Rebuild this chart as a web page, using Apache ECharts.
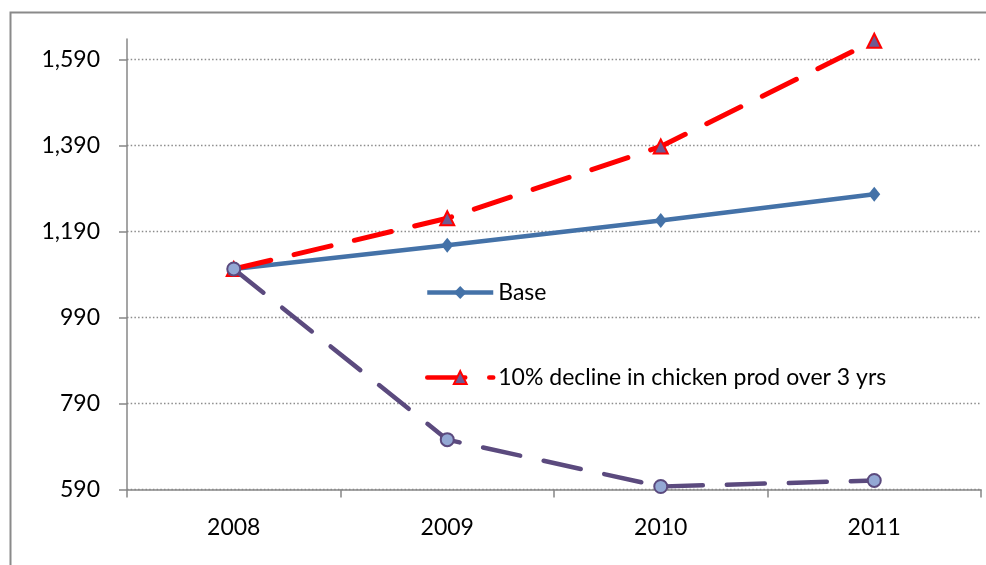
<!DOCTYPE html>
<html>
<head>
<meta charset="utf-8">
<script src="https://cdn.jsdelivr.net/npm/echarts@6/dist/echarts.min.js"></script>
<style>
  html, body { margin: 0; padding: 0; background: #fff; }
  #chart { width: 986px; height: 565px; }
</style>
</head>
<body>
<div id="chart"></div>
<script>
// Years on the category axis
const years = ['2008', '2009', '2010', '2011'];

// Series values
const baseValues = [1103, 1158, 1216, 1277];
const declineValues = [1103, 1221, 1388, 1634];
const thirdValues = [1103, 706, 597, 611];

// Value axis ticks
const yTicks = [590, 790, 990, 1190, 1390, 1590];
const yMin = 590;
const yMax = 1638;

const FONT = 'Lato';
const AXIS_GREY = '#878787';

const chart = echarts.init(document.getElementById('chart'), null, { renderer: 'canvas' });

const legendCommon = {
  left: 425,
  padding: 0,
  itemWidth: 66,
  itemHeight: 16,
  itemGap: 6,
  lineStyle: { width: 4.5 },
  textStyle: { fontFamily: FONT, fontSize: 23, color: '#000', padding: [0, 0, 0, 0] }
};

chart.setOption({
  backgroundColor: '#ffffff',
  animation: false,
  textStyle: { fontFamily: FONT, color: '#000' },
  graphic: [
    {
      type: 'rect',
      left: 8, top: 10,
      shape: { width: 1000, height: 600 },
      style: { fill: 'none', stroke: '#8a8a8a', lineWidth: 2 },
      z: -1
    }
  ],
  grid: { left: 127, right: 5, top: 39, bottom: 75.5, containLabel: false },
  legend: [
    Object.assign({}, legendCommon, { top: 281, data: ['Base'] }),
    Object.assign({}, legendCommon, { top: 366, data: ['10% decline in chicken prod over 3 yrs'] })
  ],
  xAxis: {
    type: 'category',
    data: years,
    boundaryGap: true,
    axisLine: { lineStyle: { color: AXIS_GREY, width: 1.5 } },
    axisTick: { show: true, length: 8, inside: false, lineStyle: { color: AXIS_GREY, width: 1.5 } },
    axisLabel: { fontFamily: FONT, fontSize: 23, color: '#000', margin: 27 },
    splitLine: { show: false }
  },
  yAxis: {
    type: 'value',
    min: yMin,
    max: yMax,
    axisLine: { show: true, lineStyle: { color: AXIS_GREY, width: 1.5 } },
    axisTick: { show: true, length: 8, lineStyle: { color: AXIS_GREY, width: 1.5 }, customValues: yTicks },
    axisLabel: {
      fontFamily: FONT, fontSize: 23, color: '#000', margin: 27,
      customValues: yTicks,
      formatter: v => v.toLocaleString('en-US')
    },
    splitLine: { show: true, lineStyle: { color: '#8c8c8c', width: 1.3, type: [1.5, 2.2] } }
  },
  series: [
    {
      name: 'Base',
      type: 'line',
      data: baseValues,
      symbol: 'diamond',
      symbolSize: [12, 15],
      lineStyle: { color: '#4472A8', width: 4.5 },
      itemStyle: { color: '#4472A8' },
      z: 2
    },
    {
      name: '10% decline in chicken prod over 3 yrs',
      type: 'line',
      data: declineValues,
      symbol: 'triangle',
      symbolSize: 14,
      lineStyle: { color: '#ff0000', width: 5, type: [38, 24], cap: 'round' },
      itemStyle: { color: '#6e5a92', borderColor: '#ff0000', borderWidth: 2 },
      z: 3
    },
    {
      name: 'Scenario 3',
      type: 'line',
      data: thirdValues,
      symbol: 'circle',
      symbolSize: 13,
      lineStyle: { color: '#5B4A7E', width: 4.5, type: [38, 24], cap: 'round' },
      itemStyle: { color: '#93A8D4', borderColor: '#5B4A7E', borderWidth: 2 },
      z: 4
    }
  ]
});
</script>
</body>
</html>
